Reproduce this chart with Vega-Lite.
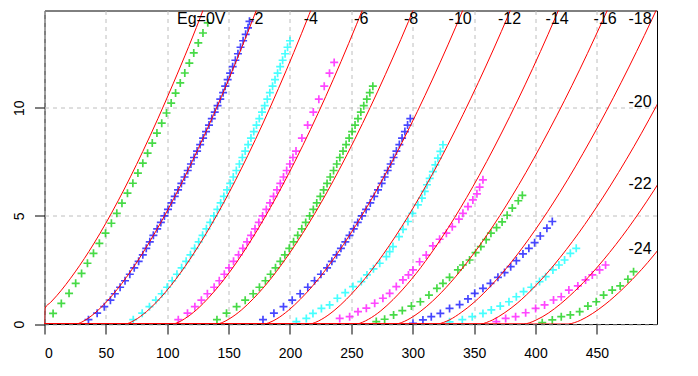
{
"$schema":"https://vega.github.io/schema/vega-lite/v6.json",
"width":612.5,"height":313.5,
"autosize":{"type":"none"},
"padding":{"left":44.5,"top":10.5,"right":41,"bottom":52},
"config":{"view":{"stroke":"#000","strokeWidth":1},"font":"Liberation Sans"},
"datasets":{
"curves":[
{"g":0,"x":0,"y":0},{"g":0,"x":0.5,"y":0.74},{"g":0,"x":5,"y":1.0},{"g":0,"x":10,"y":1.31},{"g":0,"x":25,"y":2.41},{"g":0,"x":40,"y":3.7},{"g":0,"x":60,"y":5.7},{"g":0,"x":80,"y":7.97},{"g":0,"x":105,"y":11.14},{"g":0,"x":130,"y":14.64},{"g":0,"x":140,"y":16.2},
{"g":-2,"x":0,"y":0},{"g":-2,"x":25.4,"y":0},{"g":-2,"x":30.4,"y":0.09},{"g":-2,"x":35.4,"y":0.26},{"g":-2,"x":45.4,"y":0.73},{"g":-2,"x":55.4,"y":1.34},{"g":-2,"x":70.4,"y":2.45},{"g":-2,"x":85.4,"y":3.78},{"g":-2,"x":105.4,"y":5.81},{"g":-2,"x":125.4,"y":8.13},{"g":-2,"x":150.4,"y":11.36},{"g":-2,"x":175.4,"y":14.93},{"g":-2,"x":200.4,"y":18.81},
{"g":-4,"x":0,"y":0},{"g":-4,"x":65.6,"y":0},{"g":-4,"x":70.6,"y":0.09},{"g":-4,"x":75.6,"y":0.25},{"g":-4,"x":85.6,"y":0.7},{"g":-4,"x":95.6,"y":1.28},{"g":-4,"x":110.6,"y":2.35},{"g":-4,"x":125.6,"y":3.62},{"g":-4,"x":145.6,"y":5.57},{"g":-4,"x":165.6,"y":7.79},{"g":-4,"x":190.6,"y":10.89},{"g":-4,"x":215.6,"y":14.31},{"g":-4,"x":240.6,"y":18.04},
{"g":-6,"x":0,"y":0},{"g":-6,"x":104.1,"y":0},{"g":-6,"x":109.1,"y":0.08},{"g":-6,"x":114.1,"y":0.24},{"g":-6,"x":124.1,"y":0.67},{"g":-6,"x":134.1,"y":1.24},{"g":-6,"x":149.1,"y":2.27},{"g":-6,"x":164.1,"y":3.5},{"g":-6,"x":184.1,"y":5.39},{"g":-6,"x":204.1,"y":7.53},{"g":-6,"x":229.1,"y":10.52},{"g":-6,"x":254.1,"y":13.84},{"g":-6,"x":279.1,"y":17.44},
{"g":-8,"x":0,"y":0},{"g":-8,"x":140.3,"y":0},{"g":-8,"x":145.3,"y":0.08},{"g":-8,"x":150.3,"y":0.23},{"g":-8,"x":160.3,"y":0.64},{"g":-8,"x":170.3,"y":1.18},{"g":-8,"x":185.3,"y":2.16},{"g":-8,"x":200.3,"y":3.33},{"g":-8,"x":220.3,"y":5.12},{"g":-8,"x":240.3,"y":7.16},{"g":-8,"x":265.3,"y":10.01},{"g":-8,"x":290.3,"y":13.16},{"g":-8,"x":315.3,"y":16.58},
{"g":-10,"x":0,"y":0},{"g":-10,"x":178.7,"y":0},{"g":-10,"x":183.7,"y":0.08},{"g":-10,"x":188.7,"y":0.22},{"g":-10,"x":198.7,"y":0.63},{"g":-10,"x":208.7,"y":1.16},{"g":-10,"x":223.7,"y":2.12},{"g":-10,"x":238.7,"y":3.27},{"g":-10,"x":258.7,"y":5.03},{"g":-10,"x":278.7,"y":7.03},{"g":-10,"x":303.7,"y":9.82},{"g":-10,"x":328.7,"y":12.91},{"g":-10,"x":353.7,"y":16.27},
{"g":-12,"x":0,"y":0},{"g":-12,"x":215.9,"y":0},{"g":-12,"x":220.9,"y":0.08},{"g":-12,"x":225.9,"y":0.22},{"g":-12,"x":235.9,"y":0.62},{"g":-12,"x":245.9,"y":1.14},{"g":-12,"x":260.9,"y":2.09},{"g":-12,"x":275.9,"y":3.22},{"g":-12,"x":295.9,"y":4.95},{"g":-12,"x":315.9,"y":6.92},{"g":-12,"x":340.9,"y":9.68},{"g":-12,"x":365.9,"y":12.72},{"g":-12,"x":390.9,"y":16.03},
{"g":-14,"x":0,"y":0},{"g":-14,"x":254,"y":0},{"g":-14,"x":259,"y":0.08},{"g":-14,"x":264,"y":0.22},{"g":-14,"x":274,"y":0.61},{"g":-14,"x":284,"y":1.13},{"g":-14,"x":299,"y":2.07},{"g":-14,"x":314,"y":3.19},{"g":-14,"x":334,"y":4.91},{"g":-14,"x":354,"y":6.86},{"g":-14,"x":379,"y":9.59},{"g":-14,"x":404,"y":12.6},{"g":-14,"x":429,"y":15.88},
{"g":-16,"x":0,"y":0},{"g":-16,"x":286,"y":0},{"g":-16,"x":291,"y":0.07},{"g":-16,"x":296,"y":0.2},{"g":-16,"x":306,"y":0.57},{"g":-16,"x":316,"y":1.05},{"g":-16,"x":331,"y":1.93},{"g":-16,"x":346,"y":2.98},{"g":-16,"x":366,"y":4.58},{"g":-16,"x":386,"y":6.4},{"g":-16,"x":411,"y":8.95},{"g":-16,"x":436,"y":11.76},{"g":-16,"x":461,"y":14.82},
{"g":-18,"x":0,"y":0},{"g":-18,"x":319.9,"y":0},{"g":-18,"x":324.9,"y":0.07},{"g":-18,"x":329.9,"y":0.19},{"g":-18,"x":339.9,"y":0.55},{"g":-18,"x":349.9,"y":1.0},{"g":-18,"x":364.9,"y":1.84},{"g":-18,"x":379.9,"y":2.83},{"g":-18,"x":399.9,"y":4.36},{"g":-18,"x":419.9,"y":6.09},{"g":-18,"x":444.9,"y":8.51},{"g":-18,"x":469.9,"y":11.18},{"g":-18,"x":494.9,"y":14.09},{"g":-18,"x":519.9,"y":17.22},
{"g":-20,"x":0,"y":0},{"g":-20,"x":355.1,"y":0},{"g":-20,"x":360.1,"y":0.07},{"g":-20,"x":365.1,"y":0.19},{"g":-20,"x":375.1,"y":0.53},{"g":-20,"x":385.1,"y":0.96},{"g":-20,"x":400.1,"y":1.77},{"g":-20,"x":415.1,"y":2.73},{"g":-20,"x":435.1,"y":4.2},{"g":-20,"x":455.1,"y":5.87},{"g":-20,"x":480.1,"y":8.2},{"g":-20,"x":505.1,"y":10.78},
{"g":-22,"x":0,"y":0},{"g":-22,"x":390.4,"y":0},{"g":-22,"x":395.4,"y":0.06},{"g":-22,"x":400.4,"y":0.18},{"g":-22,"x":410.4,"y":0.5},{"g":-22,"x":420.4,"y":0.93},{"g":-22,"x":435.4,"y":1.71},{"g":-22,"x":450.4,"y":2.63},{"g":-22,"x":470.4,"y":4.04},{"g":-22,"x":490.4,"y":5.65},{"g":-22,"x":515.4,"y":7.9},
{"g":-24,"x":0,"y":0},{"g":-24,"x":426.6,"y":0},{"g":-24,"x":431.6,"y":0.06},{"g":-24,"x":436.6,"y":0.17},{"g":-24,"x":446.6,"y":0.49},{"g":-24,"x":456.6,"y":0.9},{"g":-24,"x":471.6,"y":1.65},{"g":-24,"x":486.6,"y":2.53},{"g":-24,"x":506.6,"y":3.9}
],
"pts":[
{"g":0,"x":7.0,"y":0.49},{"g":0,"x":13.7,"y":0.95},{"g":0,"x":20.0,"y":1.42},{"g":0,"x":25.4,"y":1.88},{"g":0,"x":30.2,"y":2.34},{"g":0,"x":35.0,"y":2.81},{"g":0,"x":39.9,"y":3.27},{"g":0,"x":44.7,"y":3.73},{"g":0,"x":49.7,"y":4.2},{"g":0,"x":54.5,"y":4.66},{"g":0,"x":58.9,"y":5.12},{"g":0,"x":63.1,"y":5.59},{"g":0,"x":67.6,"y":6.05},{"g":0,"x":72.0,"y":6.51},{"g":0,"x":76.1,"y":6.98},{"g":0,"x":80.1,"y":7.44},{"g":0,"x":84.0,"y":7.9},{"g":0,"x":87.8,"y":8.37},{"g":0,"x":91.6,"y":8.83},{"g":0,"x":95.5,"y":9.29},{"g":0,"x":99.4,"y":9.76},{"g":0,"x":103.2,"y":10.22},{"g":0,"x":106.8,"y":10.68},{"g":0,"x":110.6,"y":11.15},{"g":0,"x":114.3,"y":11.61},{"g":0,"x":118.0,"y":12.07},{"g":0,"x":121.6,"y":12.54},{"g":0,"x":125.3,"y":13.0},{"g":0,"x":129.1,"y":13.46},{"g":0,"x":133.0,"y":13.93},
{"g":-2,"x":35.8,"y":0.2},{"g":-2,"x":42.9,"y":0.5},{"g":-2,"x":48.7,"y":0.8},{"g":-2,"x":53.7,"y":1.1},{"g":-2,"x":57.3,"y":1.4},{"g":-2,"x":61.6,"y":1.7},{"g":-2,"x":65.6,"y":2.0},{"g":-2,"x":69.5,"y":2.3},{"g":-2,"x":73.1,"y":2.6},{"g":-2,"x":76.7,"y":2.9},{"g":-2,"x":80.1,"y":3.2},{"g":-2,"x":82.9,"y":3.5},{"g":-2,"x":85.8,"y":3.8},{"g":-2,"x":88.7,"y":4.1},{"g":-2,"x":91.8,"y":4.4},{"g":-2,"x":94.8,"y":4.7},{"g":-2,"x":97.7,"y":5.0},{"g":-2,"x":100.6,"y":5.3},{"g":-2,"x":103.4,"y":5.6},{"g":-2,"x":106.1,"y":5.9},{"g":-2,"x":108.8,"y":6.2},{"g":-2,"x":111.5,"y":6.5},{"g":-2,"x":114.1,"y":6.8},{"g":-2,"x":116.7,"y":7.1},{"g":-2,"x":119.3,"y":7.4},{"g":-2,"x":121.8,"y":7.7},{"g":-2,"x":124.3,"y":8.0},{"g":-2,"x":126.8,"y":8.3},{"g":-2,"x":129.2,"y":8.6},{"g":-2,"x":131.6,"y":8.9},{"g":-2,"x":134.0,"y":9.2},{"g":-2,"x":136.3,"y":9.5},{"g":-2,"x":138.7,"y":9.8},{"g":-2,"x":141.0,"y":10.1},{"g":-2,"x":143.2,"y":10.4},{"g":-2,"x":145.5,"y":10.7},{"g":-2,"x":147.2,"y":11.0},{"g":-2,"x":149.2,"y":11.3},{"g":-2,"x":151.2,"y":11.6},{"g":-2,"x":153.3,"y":11.9},{"g":-2,"x":155.5,"y":12.2},{"g":-2,"x":157.6,"y":12.5},{"g":-2,"x":159.7,"y":12.8},{"g":-2,"x":161.8,"y":13.1},{"g":-2,"x":163.9,"y":13.4},{"g":-2,"x":165.8,"y":13.7},{"g":-2,"x":167.0,"y":14.0},
{"g":-4,"x":72.3,"y":0.2},{"g":-4,"x":79.6,"y":0.5},{"g":-4,"x":85.5,"y":0.8},{"g":-4,"x":90.7,"y":1.1},{"g":-4,"x":95.5,"y":1.4},{"g":-4,"x":99.9,"y":1.7},{"g":-4,"x":104.0,"y":2.0},{"g":-4,"x":107.9,"y":2.3},{"g":-4,"x":111.7,"y":2.6},{"g":-4,"x":115.4,"y":2.9},{"g":-4,"x":118.9,"y":3.2},{"g":-4,"x":122.3,"y":3.5},{"g":-4,"x":125.6,"y":3.8},{"g":-4,"x":128.8,"y":4.1},{"g":-4,"x":131.9,"y":4.4},{"g":-4,"x":135.0,"y":4.7},{"g":-4,"x":138.0,"y":5.0},{"g":-4,"x":140.8,"y":5.3},{"g":-4,"x":143.5,"y":5.6},{"g":-4,"x":146.1,"y":5.9},{"g":-4,"x":148.7,"y":6.2},{"g":-4,"x":151.3,"y":6.5},{"g":-4,"x":153.8,"y":6.8},{"g":-4,"x":156.3,"y":7.1},{"g":-4,"x":158.8,"y":7.4},{"g":-4,"x":161.2,"y":7.7},{"g":-4,"x":163.5,"y":8.0},{"g":-4,"x":165.9,"y":8.3},{"g":-4,"x":168.2,"y":8.6},{"g":-4,"x":170.5,"y":8.9},{"g":-4,"x":172.7,"y":9.2},{"g":-4,"x":175.0,"y":9.5},{"g":-4,"x":177.2,"y":9.8},{"g":-4,"x":179.4,"y":10.1},{"g":-4,"x":181.5,"y":10.4},{"g":-4,"x":183.6,"y":10.7},{"g":-4,"x":185.8,"y":11.0},{"g":-4,"x":187.8,"y":11.3},{"g":-4,"x":189.9,"y":11.6},{"g":-4,"x":192.0,"y":11.9},{"g":-4,"x":194.0,"y":12.2},{"g":-4,"x":196.0,"y":12.5},{"g":-4,"x":198.0,"y":12.8},{"g":-4,"x":200.0,"y":13.1},
{"g":-6,"x":109.0,"y":0.2},{"g":-6,"x":116.5,"y":0.5},{"g":-6,"x":122.5,"y":0.8},{"g":-6,"x":127.8,"y":1.1},{"g":-6,"x":132.7,"y":1.4},{"g":-6,"x":138.2,"y":1.7},{"g":-6,"x":142.4,"y":2.0},{"g":-6,"x":146.5,"y":2.3},{"g":-6,"x":150.3,"y":2.6},{"g":-6,"x":154.0,"y":2.9},{"g":-6,"x":158.1,"y":3.2},{"g":-6,"x":161.6,"y":3.5},{"g":-6,"x":165.0,"y":3.8},{"g":-6,"x":168.3,"y":4.1},{"g":-6,"x":171.5,"y":4.4},{"g":-6,"x":174.6,"y":4.7},{"g":-6,"x":177.7,"y":5.0},{"g":-6,"x":180.7,"y":5.3},{"g":-6,"x":183.7,"y":5.6},{"g":-6,"x":186.6,"y":5.9},{"g":-6,"x":189.4,"y":6.2},{"g":-6,"x":192.1,"y":6.5},{"g":-6,"x":194.7,"y":6.8},{"g":-6,"x":197.3,"y":7.1},{"g":-6,"x":199.9,"y":7.4},{"g":-6,"x":202.4,"y":7.7},{"g":-6,"x":204.9,"y":8.0},{"g":-6,"x":209.7,"y":8.6},{"g":-6,"x":214.4,"y":9.2},{"g":-6,"x":219.0,"y":9.8},{"g":-6,"x":223.5,"y":10.4},{"g":-6,"x":227.9,"y":11.0},{"g":-6,"x":232.2,"y":11.6},{"g":-6,"x":236.0,"y":12.1},
{"g":-8,"x":140.5,"y":0.2},{"g":-8,"x":148.3,"y":0.5},{"g":-8,"x":156.5,"y":0.8},{"g":-8,"x":163.5,"y":1.1},{"g":-8,"x":170.0,"y":1.4},{"g":-8,"x":175.1,"y":1.7},{"g":-8,"x":180.0,"y":2.0},{"g":-8,"x":184.2,"y":2.3},{"g":-8,"x":188.2,"y":2.6},{"g":-8,"x":192.1,"y":2.9},{"g":-8,"x":195.8,"y":3.2},{"g":-8,"x":199.4,"y":3.5},{"g":-8,"x":202.9,"y":3.8},{"g":-8,"x":206.3,"y":4.1},{"g":-8,"x":209.6,"y":4.4},{"g":-8,"x":212.8,"y":4.7},{"g":-8,"x":216.0,"y":5.0},{"g":-8,"x":219.0,"y":5.3},{"g":-8,"x":221.8,"y":5.6},{"g":-8,"x":224.7,"y":5.9},{"g":-8,"x":227.4,"y":6.2},{"g":-8,"x":230.2,"y":6.5},{"g":-8,"x":232.8,"y":6.8},{"g":-8,"x":235.5,"y":7.1},{"g":-8,"x":238.1,"y":7.4},{"g":-8,"x":240.6,"y":7.7},{"g":-8,"x":243.2,"y":8.0},{"g":-8,"x":245.7,"y":8.3},{"g":-8,"x":248.2,"y":8.6},{"g":-8,"x":250.6,"y":8.9},{"g":-8,"x":253.0,"y":9.2},{"g":-8,"x":255.4,"y":9.5},{"g":-8,"x":257.7,"y":9.8},{"g":-8,"x":260.1,"y":10.1},{"g":-8,"x":262.6,"y":10.4},{"g":-8,"x":265.0,"y":10.7},{"g":-8,"x":267.5,"y":11.0},
{"g":-10,"x":178.0,"y":0.2},{"g":-10,"x":186.9,"y":0.5},{"g":-10,"x":194.7,"y":0.8},{"g":-10,"x":201.8,"y":1.1},{"g":-10,"x":208.3,"y":1.4},{"g":-10,"x":214.5,"y":1.7},{"g":-10,"x":220.0,"y":2.0},{"g":-10,"x":225.2,"y":2.3},{"g":-10,"x":230.2,"y":2.6},{"g":-10,"x":234.1,"y":2.9},{"g":-10,"x":237.9,"y":3.2},{"g":-10,"x":241.5,"y":3.5},{"g":-10,"x":245.1,"y":3.8},{"g":-10,"x":248.5,"y":4.1},{"g":-10,"x":251.9,"y":4.4},{"g":-10,"x":255.2,"y":4.7},{"g":-10,"x":258.6,"y":5.0},{"g":-10,"x":262.0,"y":5.3},{"g":-10,"x":265.4,"y":5.6},{"g":-10,"x":268.6,"y":5.9},{"g":-10,"x":271.7,"y":6.2},{"g":-10,"x":274.7,"y":6.5},{"g":-10,"x":277.1,"y":6.8},{"g":-10,"x":279.6,"y":7.1},{"g":-10,"x":282.0,"y":7.4},{"g":-10,"x":284.4,"y":7.7},{"g":-10,"x":286.7,"y":8.0},{"g":-10,"x":289.1,"y":8.3},{"g":-10,"x":291.3,"y":8.6},{"g":-10,"x":293.6,"y":8.9},{"g":-10,"x":295.8,"y":9.2},{"g":-10,"x":298.0,"y":9.5},
{"g":-12,"x":205.2,"y":0.11},{"g":-12,"x":213.3,"y":0.26},{"g":-12,"x":218.7,"y":0.49},{"g":-12,"x":225.6,"y":0.72},{"g":-12,"x":232.3,"y":0.88},{"g":-12,"x":238.6,"y":1.19},{"g":-12,"x":245.0,"y":1.45},{"g":-12,"x":251.3,"y":1.73},{"g":-12,"x":258.1,"y":1.96},{"g":-12,"x":262.7,"y":2.27},{"g":-12,"x":268.0,"y":2.55},{"g":-12,"x":273.1,"y":2.81},{"g":-12,"x":278.5,"y":3.12},{"g":-12,"x":281.2,"y":3.35},{"g":-12,"x":283.9,"y":3.58},{"g":-12,"x":288.8,"y":4.04},{"g":-12,"x":292.1,"y":4.38},{"g":-12,"x":296.1,"y":4.74},{"g":-12,"x":299.7,"y":5.12},{"g":-12,"x":304.2,"y":5.51},{"g":-12,"x":307.5,"y":5.82},{"g":-12,"x":309.8,"y":6.13},{"g":-12,"x":311.6,"y":6.44},{"g":-12,"x":313.8,"y":6.74},{"g":-12,"x":316.4,"y":7.05},{"g":-12,"x":318.4,"y":7.36},{"g":-12,"x":320.5,"y":7.67},{"g":-12,"x":322.5,"y":7.98},{"g":-12,"x":324.6,"y":8.29},
{"g":-14,"x":240.5,"y":0.26},{"g":-14,"x":248.6,"y":0.34},{"g":-14,"x":255.4,"y":0.57},{"g":-14,"x":262.2,"y":0.73},{"g":-14,"x":269.0,"y":0.96},{"g":-14,"x":275.7,"y":1.19},{"g":-14,"x":281.2,"y":1.42},{"g":-14,"x":286.6,"y":1.73},{"g":-14,"x":292.0,"y":2.04},{"g":-14,"x":296.5,"y":2.27},{"g":-14,"x":300.2,"y":2.5},{"g":-14,"x":305.6,"y":2.88},{"g":-14,"x":311.0,"y":3.19},{"g":-14,"x":316.4,"y":3.61},{"g":-14,"x":321.9,"y":3.92},{"g":-14,"x":327.4,"y":4.2},{"g":-14,"x":332.2,"y":4.5},{"g":-14,"x":337.6,"y":4.85},{"g":-14,"x":340.9,"y":5.12},{"g":-14,"x":345.0,"y":5.43},{"g":-14,"x":349.0,"y":5.74},{"g":-14,"x":352.3,"y":6.02},{"g":-14,"x":354.5,"y":6.33},{"g":-14,"x":357.2,"y":6.67},
{"g":-16,"x":270.3,"y":0.11},{"g":-16,"x":277.1,"y":0.22},{"g":-16,"x":284.4,"y":0.42},{"g":-16,"x":291.5,"y":0.62},{"g":-16,"x":298.9,"y":0.83},{"g":-16,"x":306.2,"y":1.03},{"g":-16,"x":313.2,"y":1.34},{"g":-16,"x":319.7,"y":1.65},{"g":-16,"x":324.6,"y":1.88},{"g":-16,"x":330.0,"y":2.16},{"g":-16,"x":336.8,"y":2.5},{"g":-16,"x":340.9,"y":2.73},{"g":-16,"x":346.3,"y":2.96},{"g":-16,"x":351.2,"y":3.3},{"g":-16,"x":355.5,"y":3.58},{"g":-16,"x":359.8,"y":3.9},{"g":-16,"x":363.7,"y":4.2},{"g":-16,"x":368.3,"y":4.46},{"g":-16,"x":372.8,"y":4.72},{"g":-16,"x":376.9,"y":5.03},{"g":-16,"x":381.1,"y":5.36},{"g":-16,"x":386.0,"y":5.7},{"g":-16,"x":389.3,"y":5.95},
{"g":-18,"x":300.2,"y":0.03},{"g":-18,"x":308.3,"y":0.19},{"g":-18,"x":315.1,"y":0.34},{"g":-18,"x":322.5,"y":0.49},{"g":-18,"x":330.0,"y":0.72},{"g":-18,"x":338.2,"y":0.9},{"g":-18,"x":345.0,"y":1.16},{"g":-18,"x":350.5,"y":1.42},{"g":-18,"x":357.2,"y":1.65},{"g":-18,"x":363.3,"y":1.88},{"g":-18,"x":369.4,"y":2.16},{"g":-18,"x":374.8,"y":2.38},{"g":-18,"x":379.8,"y":2.65},{"g":-18,"x":384.4,"y":2.93},{"g":-18,"x":389.8,"y":3.24},{"g":-18,"x":394.6,"y":3.5},{"g":-18,"x":399.3,"y":3.76},{"g":-18,"x":403.9,"y":4.07},{"g":-18,"x":409.3,"y":4.43},{"g":-18,"x":413.7,"y":4.74},
{"g":-20,"x":330.0,"y":0.1},{"g":-20,"x":340.4,"y":0.2},{"g":-20,"x":348.5,"y":0.34},{"g":-20,"x":357.2,"y":0.49},{"g":-20,"x":364.0,"y":0.65},{"g":-20,"x":371.3,"y":0.83},{"g":-20,"x":378.4,"y":1.03},{"g":-20,"x":384.4,"y":1.26},{"g":-20,"x":390.3,"y":1.5},{"g":-20,"x":396.6,"y":1.7},{"g":-20,"x":403.3,"y":1.96},{"g":-20,"x":408.3,"y":2.19},{"g":-20,"x":414.2,"y":2.5},{"g":-20,"x":419.1,"y":2.73},{"g":-20,"x":423.7,"y":2.96},{"g":-20,"x":428.4,"y":3.27},{"g":-20,"x":433.2,"y":3.5},
{"g":-22,"x":368.1,"y":0.11},{"g":-22,"x":375.7,"y":0.26},{"g":-22,"x":383.8,"y":0.34},{"g":-22,"x":392.0,"y":0.52},{"g":-22,"x":400.1,"y":0.72},{"g":-22,"x":407.4,"y":0.88},{"g":-22,"x":414.7,"y":1.11},{"g":-22,"x":421.0,"y":1.26},{"g":-22,"x":427.2,"y":1.57},{"g":-22,"x":434.5,"y":1.76},{"g":-22,"x":440.8,"y":2.04},{"g":-22,"x":446.3,"y":2.27},{"g":-22,"x":452.2,"y":2.5},{"g":-22,"x":457.1,"y":2.73},
{"g":-24,"x":405.5,"y":0.06},{"g":-24,"x":413.7,"y":0.19},{"g":-24,"x":421.0,"y":0.34},{"g":-24,"x":428.4,"y":0.42},{"g":-24,"x":436.0,"y":0.57},{"g":-24,"x":442.7,"y":0.83},{"g":-24,"x":449.5,"y":1.03},{"g":-24,"x":455.5,"y":1.34},{"g":-24,"x":462.5,"y":1.57},{"g":-24,"x":469.0,"y":1.76},{"g":-24,"x":475.3,"y":2.07},{"g":-24,"x":479.9,"y":2.42}
],
"labels":[
{"t":"Eg=0V","x":127.7,"y":14.09},{"t":"-2","x":172.5,"y":14.09},{"t":"-4","x":216.9,"y":14.09},{"t":"-6","x":258,"y":14.09},{"t":"-8","x":298.7,"y":14.09},{"t":"-10","x":338.6,"y":14.09},{"t":"-12","x":378.9,"y":14.09},{"t":"-14","x":417.6,"y":14.09},{"t":"-16","x":456.7,"y":14.09},{"t":"-18","x":485.2,"y":14.09},{"t":"-20","x":485.2,"y":10.27},{"t":"-22","x":485.2,"y":6.46},{"t":"-24","x":485.2,"y":3.49}
]
},
"layer":[
{"data":{"name":"pts"},
"mark":{"type":"point","shape":"M-1,0L1,0M0,-1L0,1","filled":false,"strokeWidth":1.7,"size":64,"opacity":0.72,"clip":true},
"encoding":{
"x":{"field":"x","type":"quantitative","scale":{"domain":[0,499],"nice":false,"zero":false},
"axis":{"title":null,"values":[0,50,100,150,200,250,300,350,400,450],"grid":true,"gridDash":[4,4],"gridColor":"#bebebe","gridWidth":1,"domain":false,"tickSize":10,"tickColor":"#000","labelFontSize":14,"labelColor":"#000","labelPadding":12,"labelFont":"Liberation Sans"}},
"y":{"field":"y","type":"quantitative","scale":{"domain":[0,14.5],"nice":false,"zero":false},
"axis":{"title":null,"values":[0,5,10],"grid":true,"gridDash":[4,4],"gridColor":"#bebebe","gridWidth":1,"domain":false,"tickSize":10,"tickColor":"#000","labelFontSize":14,"labelColor":"#000","labelAngle":270,"labelAlign":"center","labelBaseline":"alphabetic","labelPadding":11,"labelFont":"Liberation Sans"}},
"color":{"field":"g","type":"ordinal","legend":null,"scale":{"domain":[0,-2,-4,-6,-8,-10,-12,-14,-16,-18,-20,-22,-24],"range":["#00cd00","#0000ff","#00ffff","#ff00ff","#00cd00","#0000ff","#00ffff","#ff00ff","#00cd00","#0000ff","#00ffff","#ff00ff","#00cd00"]}}
}},
{"data":{"name":"curves"},
"mark":{"type":"line","color":"#ff0000","strokeWidth":1,"clip":true,"interpolate":"monotone"},
"encoding":{"x":{"field":"x","type":"quantitative"},"y":{"field":"y","type":"quantitative"},"detail":{"field":"g","type":"nominal"}}},
{"data":{"name":"labels"},
"mark":{"type":"text","fontSize":16,"baseline":"middle","align":"center","color":"#000","font":"Liberation Sans"},
"encoding":{"x":{"field":"x","type":"quantitative"},"y":{"field":"y","type":"quantitative"},"text":{"field":"t"}}}
]
}
